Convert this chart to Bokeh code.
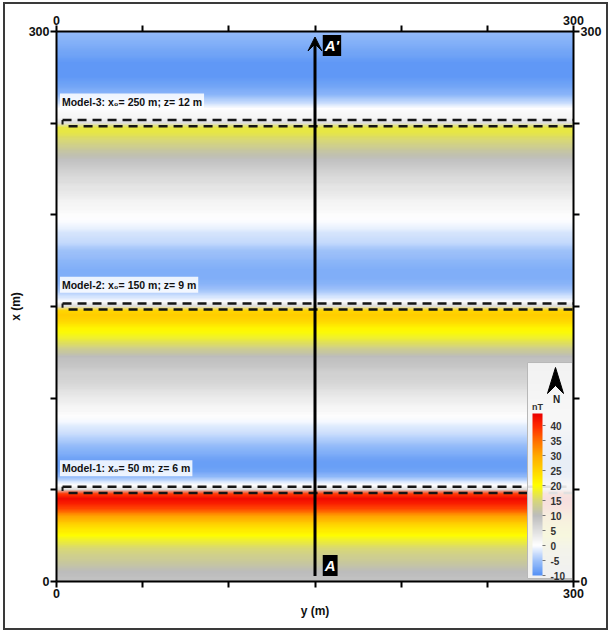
import numpy as np
from bokeh.plotting import figure
from bokeh.models import (LinearColorMapper, ColorBar, FixedTicker, LinearAxis,
                          Range1d, Label, Arrow, VeeHead)
from bokeh.embed import file_html
from bokeh.resources import INLINE

# ---------------- data ----------------
# north coordinate x (m) of each profile sample (grid step 2.5 m)
north_m = np.arange(0, 300.01, 2.5)
# total-field anomaly along x (nT)
anomaly_nT = [
    9, 9.5, 10, 11, 12, 13, 14, 15, 16.5, 18,
    20, 22, 24, 27, 30, 34, 38, 41, 43, 39,
    6, 0, -3, -6, -8, -8.5, -8.5, -8, -7, -6,
    -5, -4, -3, -2, -1.5, -0.5, 0.5, 1, 1.5, 2.5,
    3, 4, 5, 6, 6.5, 7, 7.5, 8.5, 9, 10,
    12, 14, 16, 18, 19.5, 21, 23, 25, 26, 25,
    5, 0, -2, -4, -5.5, -6.5, -7, -7, -7, -6.5,
    -6, -5.5, -5, -4, -3, -2.5, -2, -1, -0.5, 0,
    0.5, 1, 1.5, 2, 3, 3.5, 4, 5, 5.5, 6.5,
    7.5, 8.5, 9.5, 11, 12, 13.5, 15, 16, 17, 17,
    5, 1.5, 1, 0, -2, -4, -6, -7, -8, -8.5,
    -9, -9, -9, -9, -8.5, -8, -7.5, -7, -6.5, -6,
    -5.5,
]
model_names = ["Model-1", "Model-2", "Model-3"]
model_x0 = [50, 150, 250]
model_z = [6, 9, 12]
body_half_width = 1.7
axis_ticks = [0, 50, 100, 150, 200, 250, 300]
labelled_ticks = [0, 300]
cbar_ticks = [-10, -5, 0, 5, 10, 15, 20, 25, 30, 35, 40]
cbar_low, cbar_high = -10, 44
profile_y = 150
profile_start, profile_end = 3, 297

# ---------------- colour map ----------------
anchors = [(-10, (85, 145, 245)), (-5, (160, 195, 250)), (0, (255, 255, 255)),
           (5, (222, 222, 222)), (10, (188, 188, 188)), (15, (215, 215, 120)),
           (20, (255, 255, 0)), (25, (255, 212, 0)), (30, (255, 170, 0)),
           (35, (255, 110, 0)), (40, (255, 40, 0)), (44, (235, 0, 0))]
av = np.array([a[0] for a in anchors], float)
ac = np.array([a[1] for a in anchors], float)
vals = np.linspace(cbar_low, cbar_high, 256)
palette = []
for v in vals:
    rgb = [int(round(np.interp(v, av, ac[:, k]))) for k in range(3)]
    palette.append("#%02x%02x%02x" % tuple(rgb))
mapper = LinearColorMapper(palette=palette, low=cbar_low, high=cbar_high)

# ---------------- figure ----------------
FONT = "Liberation Sans"
p = figure(width=605, height=628, x_range=Range1d(0, 300), y_range=Range1d(0, 300),
           output_backend="svg", toolbar_location=None,
           min_border_left=51, min_border_right=37, min_border_top=27, min_border_bottom=51,
           x_axis_label="y (m)", y_axis_label="x (m)")
p.styles = {"border": "2px solid #3a3a3a", "margin": "2px 0 0 3px", "box-sizing": "border-box"}
p.grid.visible = False
p.outline_line_color = None

# the same grid drawn 4 times with small sub-cell shifts and averaging alphas
# (a rendering blur so that the cell steps do not show as bands)
img = np.tile(np.array(anomaly_nT, float).reshape(-1, 1), (1, 2))
step = north_m[1] - north_m[0]
n_layers = 4
for k in range(n_layers):
    shift = (k - (n_layers - 1) / 2) * step / n_layers
    p.image(image=[img], x=0, y=north_m[0] - step / 2 + shift, dw=300,
            dh=(north_m[-1] - north_m[0]) + step, color_mapper=mapper,
            global_alpha=1.0 / (k + 1))

p.add_layout(LinearAxis(), "above")
p.add_layout(LinearAxis(), "right")
for ax in p.axis:
    ax.ticker = FixedTicker(ticks=axis_ticks)
    ax.major_label_overrides = {t: "" for t in axis_ticks if t not in labelled_ticks}
    ax.axis_line_width = 2
    ax.axis_line_color = "black"
    ax.major_tick_line_width = 2
    ax.major_tick_out = 6
    ax.major_tick_in = 0
    ax.minor_tick_out = 0
    ax.minor_tick_in = 0
    ax.major_label_text_font = FONT
    ax.major_label_text_font_style = "bold"
    ax.major_label_text_font_size = "12.5px"
    ax.major_label_text_color = "#111111"
    ax.major_label_standoff = 1
    ax.axis_label_text_font = FONT
    ax.axis_label_text_font_style = "bold"
    ax.axis_label_text_font_size = "12px"
    ax.axis_label_text_color = "#111111"
    ax.axis_label_standoff = 3
p.xaxis[0].axis_label_standoff = 8

# model bodies (dashed outlines) and labels
for name, x0, z in zip(model_names, model_x0, model_z):
    top, bot = x0 + body_half_width, x0 - body_half_width
    p.multi_line(xs=[[3.5, 300], [7.0, 300]], ys=[[top, top], [bot, bot]],
                 line_color="#151515", line_width=2.5, line_dash="9 6")
    p.line(x=[3.5, 3.5], y=[bot + 1.0, top], line_color="#151515", line_width=2)
    p.add_layout(Label(x=2.0, y=x0 + 11.8, text=f"{name}: x\u2080= {x0} m; z= {z} m",
                       text_font=FONT, text_font_style="bold", text_font_size="10.5px",
                       text_color="#111111", text_baseline="middle",
                       background_fill_color="white", background_fill_alpha=0.85,
                       padding=2))

# profile A - A'
p.add_layout(Arrow(end=VeeHead(size=14, fill_color="black", line_color="black", line_width=1),
                   x_start=profile_y, y_start=profile_start, x_end=profile_y, y_end=profile_end,
                   line_color="black", line_width=3))
for txt, yy in [("A'", 292.4), ("A", 8.7)]:
    p.add_layout(Label(x=profile_y + 4.5, y=yy, text=txt, text_color="white",
                       text_font=FONT, text_font_style="bold italic",
                       text_font_size="15px", text_baseline="middle",
                       background_fill_color="black", background_fill_alpha=1.0, padding=2))

# legend box with north arrow (positions from frame geometry)
def dx(px):
    return (px - 56) * 300 / 517
def dy(py):
    return (581 - py) * 300 / 550

p.quad(left=dx(527), right=dx(572), bottom=dy(578), top=dy(362),
       fill_color="#f6f6f6", fill_alpha=0.9, line_color="#b8b8b8", line_width=1)
p.patch(x=[dx(555), dx(563), dx(555), dx(547)], y=[dy(367), dy(393), dy(385), dy(393)],
        fill_color="black", line_color="black")
p.add_layout(Label(x=dx(556), y=dy(399), text="N", text_align="center", text_baseline="middle",
                   text_font=FONT, text_font_style="bold", text_font_size="10px",
                   text_color="#222222"))
p.add_layout(Label(x=dx(537), y=dy(406), text="nT", text_align="center", text_baseline="middle",
                   text_font=FONT, text_font_style="bold", text_font_size="9px",
                   text_color="#333333"))

cb = ColorBar(color_mapper=mapper, ticker=FixedTicker(ticks=cbar_ticks), location="bottom_right",
              width=10, height=162, margin=0, padding=6, label_standoff=5,
              major_label_overrides={t: str(t) for t in cbar_ticks},
              major_label_text_font=FONT, major_label_text_font_size="10px",
              major_label_text_font_style="bold", major_label_text_color="#333333",
              major_tick_in=0, major_tick_out=3, major_tick_line_color="#777777",
              background_fill_alpha=0, border_line_color=None, bar_line_color=None)
p.add_layout(cb, "center")

open("out.html", "w").write(file_html(p, INLINE))
